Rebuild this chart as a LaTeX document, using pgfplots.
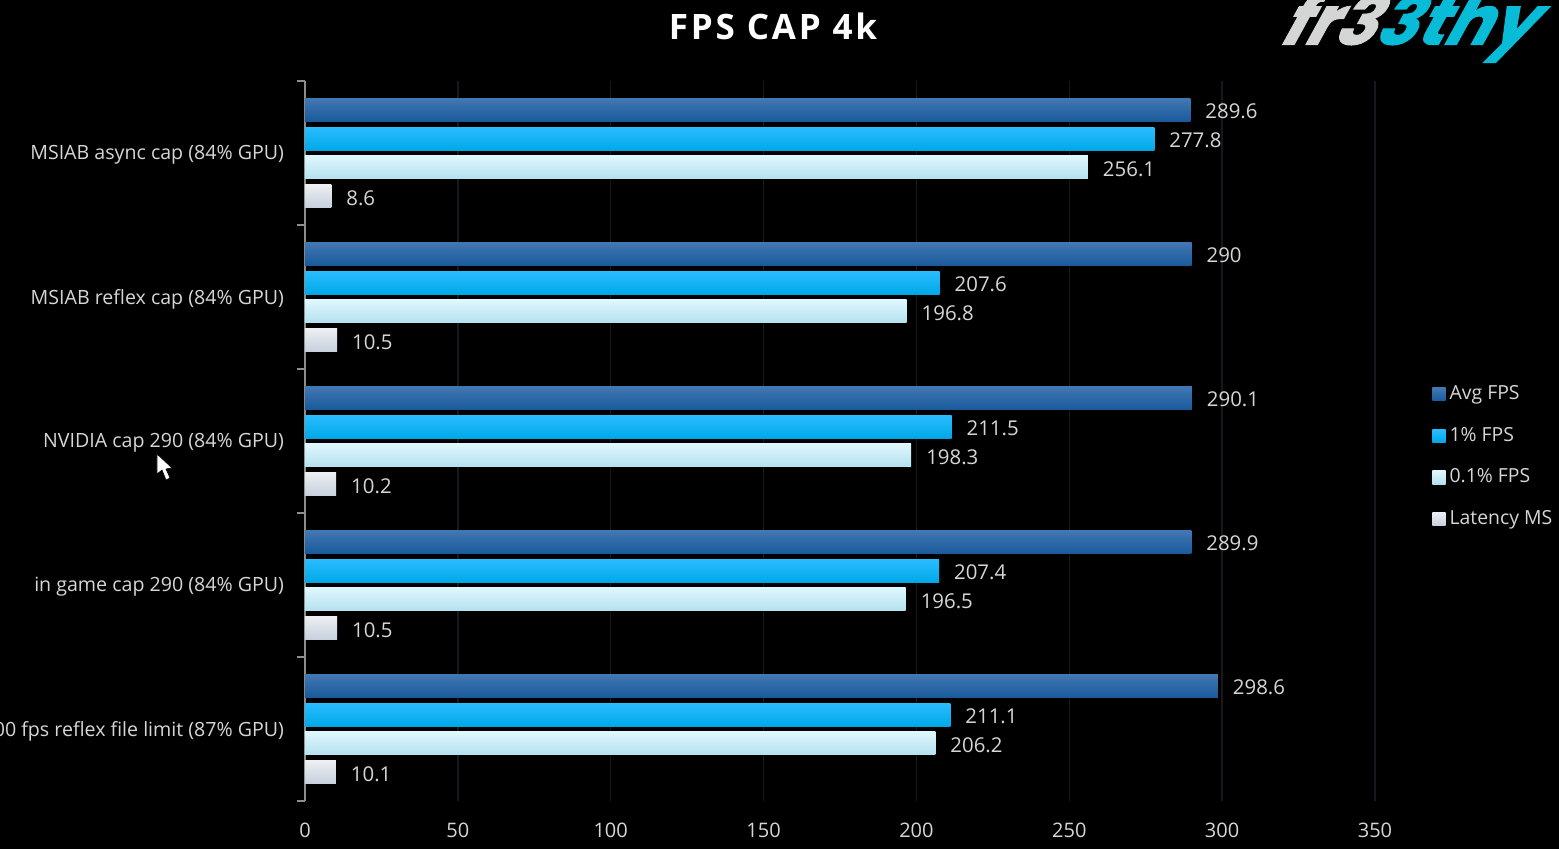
\documentclass[border=0pt]{standalone}
\usepackage{fontspec}
\usepackage{pgfplots}
\pgfplotsset{compat=1.18}
\setmainfont{Open Sans}
\newfontfamily\titlefont[LetterSpace=8]{Open Sans}
\newfontfamily\logofont[FakeBold=1.5]{Poppins}
\definecolor{txt}{HTML}{D6D6D6}
\definecolor{axisgray}{HTML}{8C8C8C}
\definecolor{gridc}{HTML}{16181E}
\definecolor{logogray}{HTML}{D4D6D6}
\definecolor{logocyan}{HTML}{08BCD8}
\definecolor{avgtop}{HTML}{4279B2}
\definecolor{avgmid}{HTML}{2464A6}
\definecolor{avgbot}{HTML}{1A5A9C}
\definecolor{onetop}{HTML}{2ABDFF}
\definecolor{onemid}{HTML}{0AB2F8}
\definecolor{onebot}{HTML}{00A8E8}
\definecolor{pttop}{HTML}{DFF7FF}
\definecolor{ptmid}{HTML}{D0F0FC}
\definecolor{ptbot}{HTML}{B4E0EE}
\definecolor{lattop}{HTML}{ECEFF3}
\definecolor{latmid}{HTML}{E0E6EC}
\definecolor{latbot}{HTML}{C6CFDC}
% every bar is its own plot, so that the shading runs over one bar only
\pgfplotsset{
    avg/.style={draw=none,top color=avgtop,middle color=avgmid,bottom color=avgbot,bar shift=21.7pt},
    one/.style={draw=none,top color=onetop,middle color=onemid,bottom color=onebot,bar shift=7.2pt},
    pt/.style={draw=none,top color=pttop,middle color=ptmid,bottom color=ptbot,bar shift=-7.2pt},
    lat/.style={draw=none,top color=lattop,middle color=latmid,bottom color=latbot,bar shift=-21.7pt},
}
\begin{document}
\begin{tikzpicture}
% 1 px of the reference = 0.5pt, axis origin sits at px (305,801)
\useasboundingbox (-152.5pt,-24pt) rectangle (627pt,400.5pt);
\fill[black] (-152.5pt,-24pt) rectangle (627pt,400.5pt);
\begin{axis}[
    scale only axis,
    width=535pt,
    height=360pt,
    xbar,
    bar width=11.5pt,
    xmin=0, xmax=350,
    ymin=-0.5, ymax=4.5,
    y dir=reverse,
    xtick={0,50,...,350},
    ytick={0,1,2,3,4},
    yticklabels={
        MSIAB async cap (84\% GPU),
        MSIAB reflex cap (84\% GPU),
        NVIDIA cap 290 (84\% GPU),
        in game cap 290 (84\% GPU),
        300 fps reflex file limit (87\% GPU)},
    minor ytick={-0.5,0.5,1.5,2.5,3.5,4.5},
    axis lines*=left,
    x axis line style={draw=none},
    y axis line style={draw=axisgray,line width=1.3pt,-},
    tick align=outside,
    major tick length=0pt,
    minor tick length=4pt,
    minor tick style={draw=axisgray,line width=1pt},
    xmajorgrids,
    major grid style={gridc,line width=0.7pt},
    tick label style={font=\fontsize{10}{12}\selectfont,text=txt},
    xticklabel style={yshift=-7.5pt},
    yticklabel style={xshift=-7pt,yshift=-1pt,font=\fontsize{9.8}{12}\selectfont},
    /pgf/number format/assume math mode=true,
    /pgf/number format/.cd,fixed,precision=1,
    /pgfplots/.cd,
    point meta=x,
    nodes near coords,
    nodes near coords style={font=\fontsize{10.2}{12}\selectfont,text=txt,anchor=west,xshift=4pt,yshift=-0.7pt},
    title={\titlefont\bfseries FPS CAP 4k},
    title style={at={(axis description cs:0.4374,1.0597)},anchor=center,yshift=0pt,text=white,
        font=\fontsize{17.5}{20}\selectfont},
    legend style={at={(axis description cs:1.0,0.59)},anchor=north west,xshift=28.5pt,yshift=-2.5pt,
        draw=none,fill=none,text=txt,font=\fontsize{9.7}{12}\selectfont,
        row sep=8.3pt,inner sep=0pt,
        /tikz/every even column/.style={column sep=2pt}},
    legend cell align=left,
    legend image code/.code={\path[#1,draw=none] (0pt,-3.3pt) rectangle (6.6pt,3.3pt);},
]
\addplot[avg] coordinates {(289.6,0)};
\addplot[one] coordinates {(277.8,0)};
\addplot[pt] coordinates {(256.1,0)};
\addplot[lat] coordinates {(8.6,0)};
\legend{Avg FPS,1\% FPS,0.1\% FPS,Latency MS}

\addplot[avg,forget plot] coordinates {(290,1)};
\addplot[one,forget plot] coordinates {(207.6,1)};
\addplot[pt,forget plot] coordinates {(196.8,1)};
\addplot[lat,forget plot] coordinates {(10.5,1)};

\addplot[avg,forget plot] coordinates {(290.1,2)};
\addplot[one,forget plot] coordinates {(211.5,2)};
\addplot[pt,forget plot] coordinates {(198.3,2)};
\addplot[lat,forget plot] coordinates {(10.2,2)};

\addplot[avg,forget plot] coordinates {(289.9,3)};
\addplot[one,forget plot] coordinates {(207.4,3)};
\addplot[pt,forget plot] coordinates {(196.5,3)};
\addplot[lat,forget plot] coordinates {(10.5,3)};

\addplot[avg,forget plot] coordinates {(298.6,4)};
\addplot[one,forget plot] coordinates {(211.1,4)};
\addplot[pt,forget plot] coordinates {(206.2,4)};
\addplot[lat,forget plot] coordinates {(10.1,4)};
\end{axis}
% decoration on top of the chart, coordinates in reference pixels
\begin{scope}[shift={(-152.5pt,400.5pt)},x=0.5pt,y=-0.5pt]
  \fill[white,draw=black,line width=0.3pt] (157,454) -- (157,474) -- (162,470) -- (166,480) -- (170,478) -- (166,469) -- (172,468) -- cycle;
  \node[inner sep=0pt,xslant=0.55,font=\logofont\bfseries\fontsize{34}{34}\selectfont] at (1413,27) {\textcolor{logogray}{fr3}\textcolor{logocyan}{3thy}};
\end{scope}
\end{tikzpicture}
\end{document}
